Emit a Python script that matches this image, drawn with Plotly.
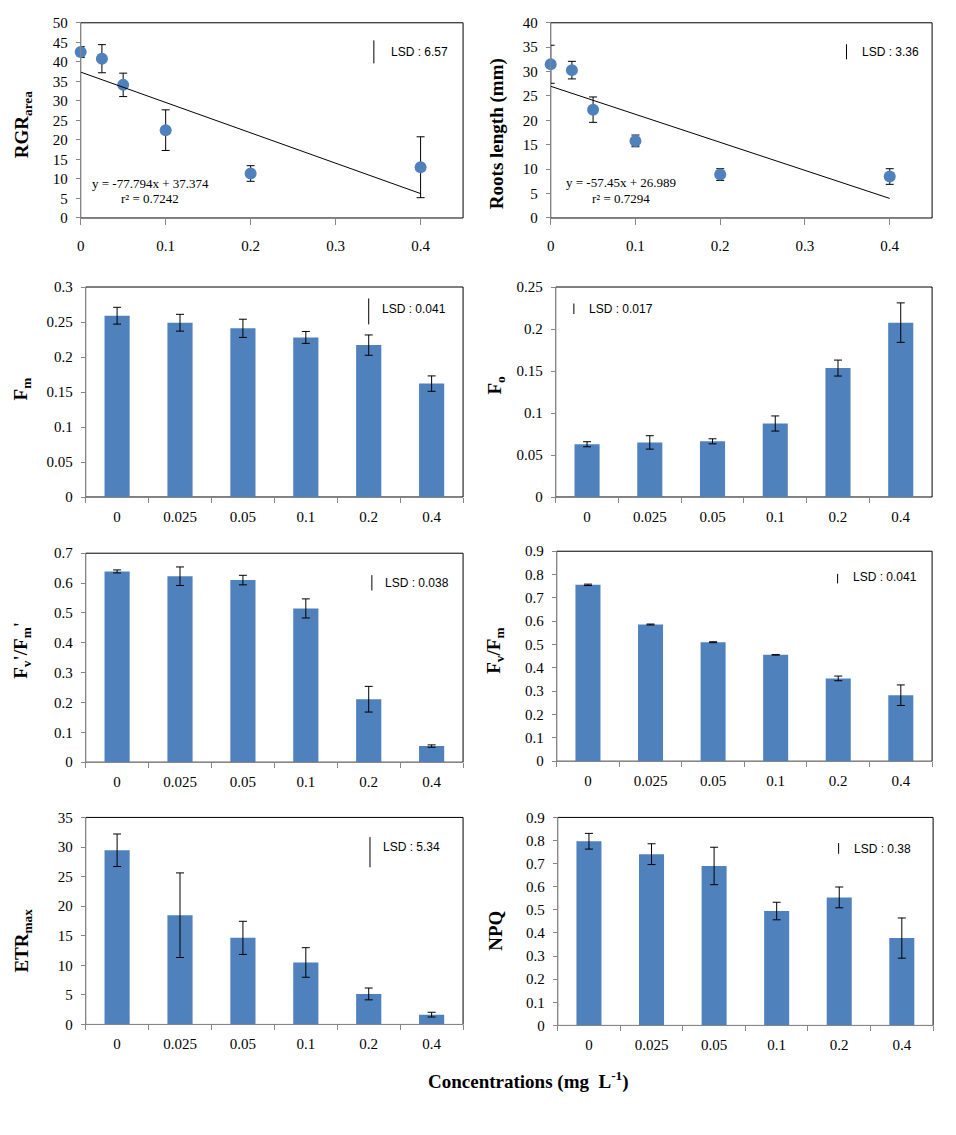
import plotly.graph_objects as go

# ---------------- data ----------------
conc_num = [0, 0.025, 0.05, 0.1, 0.2, 0.4]
conc_labels = ["0", "0.025", "0.05", "0.1", "0.2", "0.4"]

rgr_area = [42.5, 40.8, 34.1, 22.5, 11.4, 13.0]
rgr_area_err = [1.4, 3.6, 3.0, 5.2, 2.0, 7.8]
roots_length = [31.5, 30.3, 22.2, 15.8, 8.9, 8.5]
roots_length_err = [3.9, 1.8, 2.6, 1.2, 1.2, 1.6]
fm = [0.259, 0.249, 0.241, 0.228, 0.217, 0.162]
fm_err = [0.012, 0.012, 0.013, 0.0085, 0.0145, 0.011]
fo = [0.0628, 0.065, 0.0663, 0.0875, 0.1535, 0.2076]
fo_err = [0.003, 0.008, 0.003, 0.009, 0.0095, 0.0235]
fv_fm_prime = [0.639, 0.623, 0.610, 0.515, 0.211, 0.054]
fv_fm_prime_err = [0.005, 0.031, 0.016, 0.032, 0.043, 0.004]
fv_fm = [0.756, 0.586, 0.510, 0.456, 0.355, 0.283]
fv_fm_err = [0.003, 0.002, 0.002, 0.001, 0.010, 0.044]
etr_max = [29.45, 18.47, 14.64, 10.48, 5.16, 1.66]
etr_max_err = [2.75, 7.15, 2.8, 2.5, 1.0, 0.4]
npq = [0.797, 0.741, 0.690, 0.495, 0.554, 0.378]
npq_err = [0.034, 0.045, 0.081, 0.038, 0.045, 0.087]

trend_slope = [-77.794, -57.45]
trend_intercept = [37.374, 26.989]
trend_r2 = ["0.7242", "0.7294"]
lsd_labels = ["6.57", "3.36", "0.041", "0.017", "0.038", "0.041", "5.34", "0.38"]

# ---------------- layout config ----------------
W, H = 956, 1135
BLUE = "#4F81BD"
SERIF = "Liberation Serif"
SANS = "Liberation Sans"

panels = [
    dict(kind="scatter", y=rgr_area, e=rgr_area_err, title="RGR<sub>area</sub>",
         yr=[0, 50], dt=5, px=(77, 461), py=(15, 213), tpos=(19, 118),
         lsd=(0.345, 45.5, 5.9, 0.363, 42.5), trend=0, eq=(0.082, 8.8, 5.0)),
    dict(kind="scatter", y=roots_length, e=roots_length_err, title="Roots length (mm)",
         yr=[0, 40], dt=5, px=(549, 932), py=(15, 213), tpos=(495, 127),
         lsd=(0.349, 35.6, 3.1, 0.365, 34.0), trend=1, eq=(0.0825, 7.2, 4.0)),
    dict(kind="bar", y=fm, e=fm_err, title="F<sub>m</sub>",
         yr=[0, 0.3], dt=0.05, px=(82, 461), py=(283, 496), tpos=(18, 386),
         lsd=(4.0, 0.2836, 0.037, 4.18, 0.2685)),
    dict(kind="bar", y=fo, e=fo_err, title="F<sub>o</sub>",
         yr=[0, 0.25], dt=0.05, px=(554, 932), py=(283, 496), tpos=(494, 382),
         lsd=(-0.21, 0.2304, 0.0126, -0.003, 0.224)),
    dict(kind="bar", y=fv_fm_prime, e=fv_fm_prime_err, title="F<sub>v</sub>'/F<sub>m</sub>'",
         yr=[0, 0.7], dt=0.1, px=(82, 461), py=(553, 765), tpos=(18, 651),
         lsd=(4.05, 0.6265, 0.0515, 4.23, 0.601)),
    dict(kind="bar", y=fv_fm, e=fv_fm_err, title="F<sub>v</sub>/F<sub>m</sub>",
         yr=[0, 0.9], dt=0.1, px=(555, 932), py=(551, 764), tpos=(493, 652),
         lsd=(3.99, 0.803, 0.041, 4.21, 0.789)),
    dict(kind="bar", y=etr_max, e=etr_max_err, title="ETR<sub>max</sub>",
         yr=[0, 35], dt=5, px=(82, 461), py=(821, 1031), tpos=(19, 946),
         lsd=(4.02, 31.67, 5.1, 4.19, 29.95)),
    dict(kind="bar", y=npq, e=npq_err, title="NPQ",
         yr=[0, 0.9], dt=0.1, px=(556, 933), py=(821, 1032), tpos=(494, 936),
         lsd=(3.99, 0.789, 0.046, 4.21, 0.764)),
]

fig = go.Figure()
shapes = []
annotations = []
layout_axes = {}

for i, p in enumerate(panels, start=1):
    xa = "x" if i == 1 else f"x{i}"
    ya = "y" if i == 1 else f"y{i}"
    xkey = "xaxis" if i == 1 else f"xaxis{i}"
    ykey = "yaxis" if i == 1 else f"yaxis{i}"
    xdom = [p["px"][0] / W, p["px"][1] / W]
    ydom = [1 - p["py"][1] / H, 1 - p["py"][0] / H]

    err = dict(type="data", array=p["e"], visible=True, color="black", thickness=1, width=4)
    if p["kind"] == "scatter":
        fig.add_trace(go.Scatter(x=conc_num, y=p["y"], mode="markers", xaxis=xa, yaxis=ya,
                                 marker=dict(color=BLUE, size=12), error_y=err,
                                 cliponaxis=False, showlegend=False))
        k = p["trend"]
        xs = [min(conc_num), max(conc_num)]
        ys = [trend_slope[k] * v + trend_intercept[k] for v in xs]
        fig.add_trace(go.Scatter(x=xs, y=ys, mode="lines", xaxis=xa, yaxis=ya,
                                 line=dict(color="black", width=1), showlegend=False))
        layout_axes[xkey] = dict(domain=xdom, anchor=ya, range=[0, 0.45], tickvals=[0, 0.1, 0.2, 0.3, 0.4],
                                 ticktext=["0", "0.1", "0.2", "0.3", "0.4"],
                                 ticks="outside", ticklen=6, tickcolor="#868686",
                                 showline=True, linecolor="#868686", showgrid=False, zeroline=False,
                                 ticklabelstandoff=8,
                                 tickfont=dict(family=SERIF, size=15, color="black"))
        eqx, eqy1, eqy2 = p["eq"]
        slope_txt = f"{trend_slope[k]:g}"
        annotations.append(dict(x=eqx, y=eqy1, xref=xa, yref=ya, showarrow=False,
                                text=f"y = {slope_txt}x + {trend_intercept[k]:g}",
                                font=dict(family=SERIF, size=13, color="black")))
        annotations.append(dict(x=eqx, y=eqy2, xref=xa, yref=ya, showarrow=False,
                                text=f"r² = {trend_r2[k]}",
                                font=dict(family=SERIF, size=13, color="black")))
    else:
        fig.add_trace(go.Bar(x=conc_labels, y=p["y"], xaxis=xa, yaxis=ya, width=0.4,
                             marker=dict(color=BLUE, line=dict(width=0)), error_y=err,
                             showlegend=False))
        layout_axes[xkey] = dict(domain=xdom, anchor=ya, type="category",
                                 categoryorder="array", categoryarray=conc_labels,
                                 range=[-0.5, 5.5], ticks="outside", ticklen=5, tickson="boundaries",
                                 tickcolor="#868686", showline=True, linecolor="#868686",
                                 showgrid=False, zeroline=False, ticklabelstandoff=6,
                                 tickfont=dict(family=SERIF, size=15, color="black"))

    layout_axes[ykey] = dict(domain=ydom, anchor=xa, range=p["yr"], dtick=p["dt"], tick0=0,
                             ticks="outside", ticklen=4, tickcolor="#868686",
                             showline=True, linecolor="#868686", showgrid=False, zeroline=False,
                             ticklabelstandoff=5,
                             tickfont=dict(family=SERIF, size=15, color="black"))

    # plot-area frame
    shapes.append(dict(type="rect", xref=f"{xa} domain", yref=f"{ya} domain", x0=0, x1=1, y0=0, y1=1,
                       line=dict(color="black", width=1), layer="below"))

    # LSD marker
    lx, ltop, llen, tx, ty = p["lsd"]
    shapes.append(dict(type="line", xref=xa, yref=ya, x0=lx, x1=lx, y0=ltop, y1=ltop - llen,
                       line=dict(color="black", width=1)))
    annotations.append(dict(x=tx, y=ty, xref=xa, yref=ya, xanchor="left", showarrow=False,
                            text=f"LSD : {lsd_labels[i - 1]}",
                            font=dict(family=SANS, size=12, color="black")))

    # y-axis title
    annotations.append(dict(x=p["tpos"][0] / W, y=1 - p["tpos"][1] / H, xref="paper", yref="paper",
                            xanchor="center", yanchor="middle", textangle=-90, showarrow=False,
                            text=f"<b>{p['title']}</b>",
                            font=dict(family=SERIF, size=19, color="black")))

annotations.append(dict(x=527 / W, y=1 - 1103 / H, xref="paper", yref="paper", showarrow=False,
                        text="<b>Concentrations (mg  L<sup>-1</sup>)</b>",
                        font=dict(family=SERIF, size=19, color="black")))

fig.update_layout(width=W, height=H, margin=dict(l=0, r=0, t=0, b=0),
                  paper_bgcolor="white", plot_bgcolor="white",
                  shapes=shapes, annotations=annotations, **layout_axes)

fig.write_html("out.html")
